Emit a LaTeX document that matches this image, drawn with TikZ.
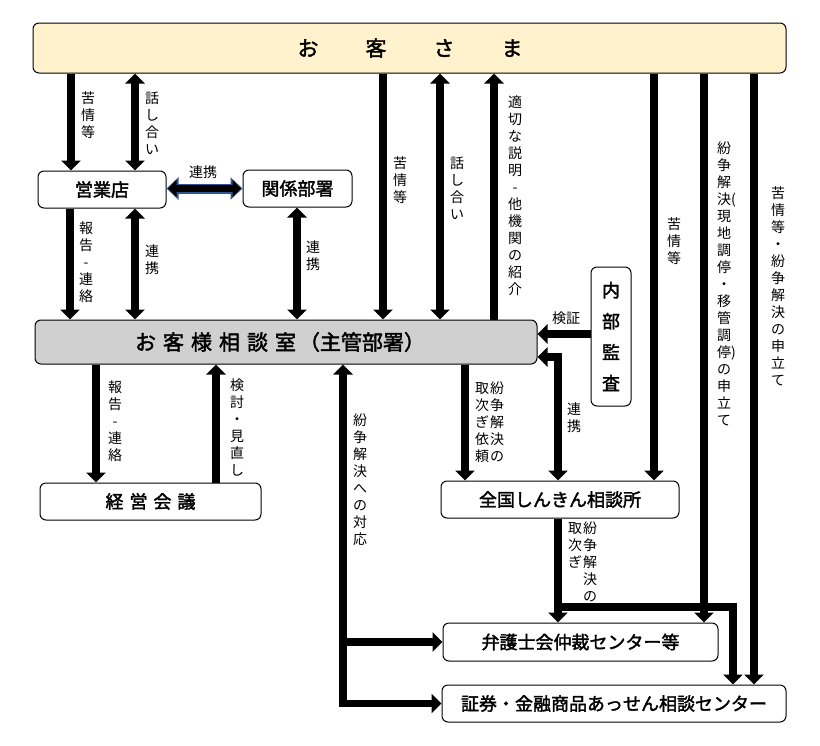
\documentclass[tikz,border=0pt]{standalone}
\usepackage{fontspec}
\setmainfont{Noto Sans CJK JP}[BoldFont={Noto Sans CJK JP}, BoldFeatures={FakeBold=2}]
\usetikzlibrary{arrows.meta}
\definecolor{custfill}{HTML}{FFF2CC}
\definecolor{roomfill}{HTML}{D0D0D0}
\definecolor{linkblue}{HTML}{2E5597}
\begin{document}
\begin{tikzpicture}[x=1pt,y=-1pt,
  box/.style={draw=black, line width=1pt, rounded corners=6pt, fill=white, inner sep=0pt,
    font=\fontsize{18}{20}\selectfont\bfseries},
  conn/.style={draw=black, line width=7.5pt},
  Hd/.tip={Triangle[width=19pt,length=10pt]},
  HdB/.tip={Triangle[width=22pt,length=12pt]},
  HdS/.tip={Triangle[width=16pt,length=8.5pt]},
  vlab/.style={font=\fontsize{14}{17}\selectfont, align=center, inner sep=0pt},
  hlab/.style={font=\fontsize{14}{17}\selectfont, inner sep=0pt}
]
\useasboundingbox (0,0) rectangle (820,745);

% boxes
\node[box, fill=custfill, minimum width=753pt, minimum height=50pt] (cust) at (409.5,48) {};
\node[font=\fontsize{21}{24}\selectfont\bfseries, inner sep=0pt] (custtext) at (410,48) {お\hspace{47pt}客\hspace{47pt}さ\hspace{47pt}ま};
\node[box, minimum width=128pt, minimum height=37pt] (eigyo) at (102,189.5) {営業店};
\node[box, minimum width=109pt, minimum height=37pt] (kankei) at (297.5,188.5) {関係部署};
\node[box, fill=roomfill, minimum width=502pt, minimum height=44pt] (sodan) at (286,342) {};
\node[font=\fontsize{21}{24}\selectfont\bfseries, inner sep=0pt] (sodantext) at (280,342)
  {お\hspace{7pt}客\hspace{7pt}様\hspace{7pt}相\hspace{7pt}談\hspace{7pt}室\hspace{3pt}（主管部署）};
\node[box, minimum width=221pt, minimum height=37pt] (keiei) at (150.5,501.5)
  {経\hspace{6pt}営\hspace{6pt}会\hspace{6pt}議};
\node[box, minimum width=40pt, minimum height=139pt, align=center,
  font=\fontsize{18}{31}\selectfont\bfseries] (naibu) at (611,336.5) {内\\部\\監\\査};
\node[box, minimum width=238pt, minimum height=37pt] (zenkoku) at (560,499.5) {全国しんきん相談所};
\node[box, minimum width=275pt, minimum height=38pt] (bengo) at (580.5,642) {弁護士会仲裁センター等};
\node[box, minimum width=344pt, minimum height=37pt] (shoken) at (614,703.5) {証券・金融商品あっせん相談センター};

% coordinates
\coordinate (lowcorner) at (343,703.5);
\coordinate (lowmid) at (343,642);
\coordinate (br) at (558,607);
\coordinate (brcorner) at (733,607);
\coordinate (elbow) at (558,357);

% connectors: customer <-> branch
\draw[conn,-{Hd}] (71,0 |- cust.south) -- (71,0 |- eigyo.north);
\draw[conn,{Hd}-{Hd}] (135,0 |- cust.south) -- (135,0 |- eigyo.north);
% branch <-> related dept
\draw[draw=linkblue, line width=10pt, {HdB}-{HdB}] (eigyo.east |- 0,188.5) -- (kankei.west |- 0,188.5);
\draw[draw=black, line width=6.5pt, shorten <=1.5pt, shorten >=1.5pt, {HdS}-{HdS}] (eigyo.east |- 0,188.5) -- (kankei.west |- 0,188.5);
% branch -> consultation room
\draw[conn,-{Hd}] (70,0 |- eigyo.south) -- (70,0 |- sodan.north);
\draw[conn,{Hd}-{Hd}] (135,0 |- eigyo.south) -- (135,0 |- sodan.north);
\draw[conn,{Hd}-{Hd}] (297,0 |- kankei.south) -- (297,0 |- sodan.north);
% customer <-> consultation room
\draw[conn,-{Hd}] (383,0 |- cust.south) -- (383,0 |- sodan.north);
\draw[conn,{Hd}-{Hd}] (440,0 |- cust.south) -- (440,0 |- sodan.north);
\draw[conn,-{Hd}] (494,0 |- sodan.north) -- (494,0 |- cust.south);
% customer -> others
\draw[conn,-{Hd}] (654,0 |- cust.south) -- (654,0 |- zenkoku.north);
\draw[conn,-{Hd}] (704,0 |- cust.south) -- (704,0 |- bengo.north);
\draw[conn,-{Hd}] (754,0 |- cust.south) -- (754,0 |- shoken.north);
% internal audit
\draw[conn,-{Hd}] (naibu.west |- 0,334) -- (sodan.east |- 0,334);
\draw[conn,{Hd}-{Hd}] (sodan.east |- elbow) -- (elbow) -- (558,0 |- zenkoku.north);
% consultation room -> zenkoku
\draw[conn,-{Hd}] (465,0 |- sodan.south) -- (465,0 |- zenkoku.north);
% consultation room -> management
\draw[conn,-{Hd}] (96,0 |- sodan.south) -- (96,0 |- keiei.north);
\draw[conn,-{Hd}] (216,0 |- keiei.north) -- (216,0 |- sodan.south);
% dispute response
\draw[conn,{Hd}-{Hd}] (343,0 |- sodan.south) -- (lowcorner) -- (shoken.west);
\draw[conn,-{Hd}] (lowmid) -- (bengo.west);
% zenkoku -> bengo / shoken
\draw[conn,-{Hd}] (558,0 |- zenkoku.south) -- (558,0 |- bengo.north);
\draw[conn,-{Hd}] (br) -- (brcorner) -- (733,0 |- shoken.north);

% labels
\node[vlab] (lk1) at (88,115) {苦\\情\\等};
\node[vlab] (lh1) at (152,123) {話\\し\\合\\い};
\node[hlab] (lr1) at (203,172) {連携};
\node[vlab] (lp1) at (86,262) {報\\告\\-\\連\\絡};
\node[vlab] (lr2) at (152,260) {連\\携};
\node[vlab] (lr3) at (313,256) {連\\携};
\node[vlab] (lk2) at (400,180) {苦\\情\\等};
\node[vlab] (lh2) at (457,188) {話\\し\\合\\い};
\node[vlab] (lt1) at (515,196) {適\\切\\な\\説\\明\\-\\他\\機\\関\\の\\紹\\介};
\node[vlab] (lk3) at (674,241) {苦\\情\\等};
\node[vlab] (lf1) at (724,284) {紛\\争\\解\\決\rlap{(}\\現\\地\\調\\停\\・\\移\\管\\調\\停\rlap{)}\\の\\申\\立\\て};
\node[vlab] (lk4) at (778,286) {苦\\情\\等\\・\\紛\\争\\解\\決\\の\\申\\立\\て};
\node[vlab] (lp2) at (115,421) {報\\告\\-\\連\\絡};
\node[vlab] (lm1) at (237,427) {検\\討\\・\\見\\直\\し};
\node[vlab] (ld1) at (360,480) {紛\\争\\解\\決\\へ\\の\\対\\応};
\node[hlab] (lv1) at (566,318) {検証};
\node[vlab] (lr4) at (574,418) {連\\携};
\node[vlab, anchor=north] (lq1) at (497,382) {紛\\争\\解\\決\\の};
\node[vlab, anchor=north] (lq2) at (482,382) {取\\次\\ぎ\\依\\頼};
\node[vlab, anchor=north] (lq3) at (590,522) {紛\\争\\解\\決\\の};
\node[vlab, anchor=north] (lq4) at (575,522) {取\\次\\ぎ};
\end{tikzpicture}
\end{document}
